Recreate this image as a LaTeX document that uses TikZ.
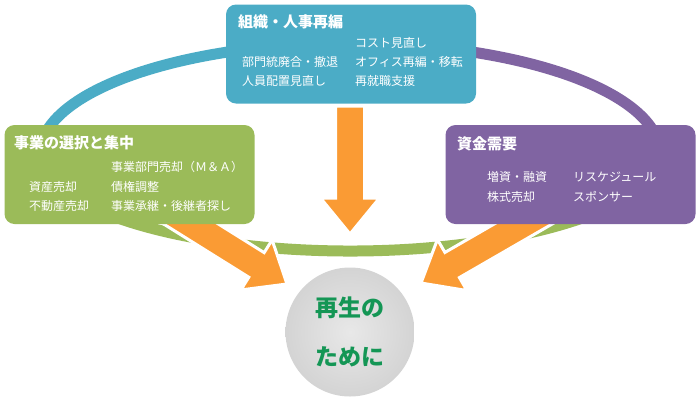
\documentclass[tikz,border=0pt]{standalone}
\usepackage{fontspec}
\setmainfont{Noto Sans CJK JP}
\usetikzlibrary{positioning}

\definecolor{soshikiblue}{RGB}{75,172,198}
\definecolor{jigyogreen}{RGB}{155,187,89}
\definecolor{shikinpurple}{RGB}{128,100,162}
\definecolor{arroworange}{RGB}{250,155,52}
\definecolor{saiseigreen}{RGB}{20,150,85}

\tikzset{
  box/.style={rounded corners=10pt, minimum width=250pt, minimum height=99pt, inner sep=0pt},
  boxtitle/.style={anchor=west, inner sep=0pt, text=white, font=\fontsize{15}{18}\selectfont\bfseries},
  boxtext/.style={anchor=west, inner sep=0pt, text=white, font=\fontsize{12}{14}\selectfont},
  ring/.style={line width=11pt},
  arrowfill/.style={fill=arroworange, draw=white, line width=3pt},
  centertext/.style={inner sep=0pt, text=saiseigreen, font=\fontsize{23}{28}\selectfont\bfseries}
}

% fat arrow: tip, angle, shaft length
\newcommand{\fatarrow}[3]{%
  \filldraw[arrowfill, shift={#1}, rotate=#2] (0,0) -- (-36,29.5) -- (-36,14.5) -- (-#3,14.5)
    -- (-#3,-14.5) -- (-36,-14.5) -- (-36,-29.5) -- cycle;}

\begin{document}
\begin{tikzpicture}[x=1pt, y=-1pt]
    \useasboundingbox (0,0) rectangle (700,400);

    % rings
    \draw[ring, soshikiblue] (350,154) ++(160:310 and 111)
        arc[start angle=160, end angle=270, x radius=310, y radius=111];
    \draw[ring, shikinpurple] (350,154) ++(270:310 and 111)
        arc[start angle=270, end angle=380, x radius=310, y radius=111];
    \draw[ring, jigyogreen] (350,150) ++(10:314 and 101)
        arc[start angle=10, end angle=170, x radius=314, y radius=101];

    % arrows
    \fatarrow{(350,234)}{-90}{128}
    \fatarrow{(287,284)}{-32}{145}
    \fatarrow{(421,283)}{-150}{145}

    % boxes
    \node[box, fill=soshikiblue] (soshiki) at (351,54) {};
    \node[box, fill=jigyogreen] (jigyo) at (129.5,174.5) {};
    \node[box, fill=shikinpurple] (shikin) at (570.5,174.5) {};

    \node[boxtitle] (soshikititle) at (238,22) {組織・人事再編};
    \node[boxtext] at (355,43) {コスト見直し};
    \node[boxtext] at (242,62) {部門統廃合・撤退};
    \node[boxtext] at (355,62) {オフィス再編・移転};
    \node[boxtext] at (242,81) {人員配置見直し};
    \node[boxtext] at (355,81) {再就職支援};

    \node[boxtitle] (jigyotitle) at (14,143) {事業の選択と集中};
    \node[boxtext] at (111,167) {事業部門売却（Ｍ＆Ａ）};
    \node[boxtext] at (29,187) {資産売却};
    \node[boxtext] at (111,187) {債権調整};
    \node[boxtext] at (29,206) {不動産売却};
    \node[boxtext] at (111,206) {事業承継・後継者探し};

    \node[boxtitle] (shikintitle) at (457,144) {資金需要};
    \node[boxtext] at (487,177) {増資・融資};
    \node[boxtext] at (573,177) {リスケジュール};
    \node[boxtext] at (487,197) {株式売却};
    \node[boxtext] at (573,197) {スポンサー};

    % centre
    \node[circle, minimum size=129pt, inner sep=0pt, shading=radial,
          inner color=white!91!black, outer color=white!83!black] (saisei) at (350,332) {};
    \node[centertext] (saiseitop) at (350,308) {再生の};
    \node[centertext, below=27pt of saiseitop] (saiseibottom) {ために};
\end{tikzpicture}
\end{document}
